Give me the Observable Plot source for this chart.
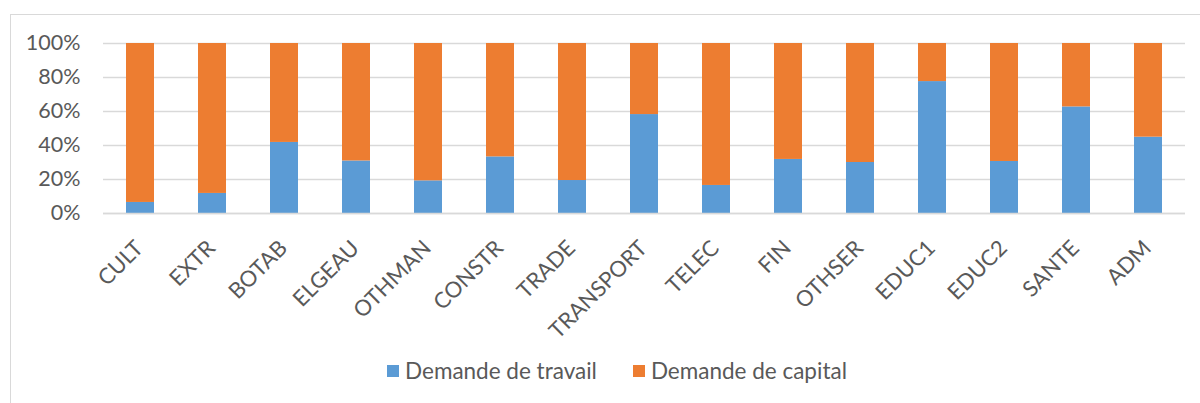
<!DOCTYPE html>
<html>
<head>
<meta charset="utf-8">
<script src="https://cdn.jsdelivr.net/npm/d3@7"></script>
<script src="https://cdn.jsdelivr.net/npm/@observablehq/plot@0.6"></script>
<style>
  html, body { margin: 0; padding: 0; background: #fff; }
  body { width: 1200px; height: 403px; position: relative; overflow: hidden; font-family: Lato, "Open Sans", sans-serif; }
  #frame { position: absolute; left: 10px; top: 14px; width: 1220px; height: 420px; border: 1px solid #d9d9d9; box-sizing: border-box; }
  #chart { position: absolute; left: 0; top: 0; }
  #legend { position: absolute; top: 357px; left: 17px; width: 1200px; display: flex; justify-content: center; gap: 36px; font-size: 22.5px; color: #595959; }
  .item { display: flex; align-items: center; gap: 6px; }
  .sw { width: 12px; height: 12px; display: inline-block; }
</style>
</head>
<body>
<div id="frame"></div>
<div id="chart"></div>
<div id="legend"></div>
<script>
const categories = ["CULT","EXTR","BOTAB","ELGEAU","OTHMAN","CONSTR","TRADE","TRANSPORT","TELEC","FIN","OTHSER","EDUC1","EDUC2","SANTE","ADM"];
const seriesNames = ["Demande de travail","Demande de capital"];
const travail = [6.5, 11.8, 41.8, 30.9, 19.2, 33.3, 19.4, 58.2, 16.5, 31.8, 30.0, 77.6, 30.6, 62.7, 44.9];
const capital = [93.5, 88.2, 58.2, 69.1, 80.8, 66.7, 80.6, 41.8, 83.5, 68.2, 70.0, 22.4, 69.4, 37.3, 55.1];
const colors = ["#5b9bd5", "#ed7d31"];
const yTicks = [0, 20, 40, 60, 80, 100];

const rows = [
  ...categories.map((c, i) => ({cat: c, series: seriesNames[0], value: travail[i]})),
  ...categories.map((c, i) => ({cat: c, series: seriesNames[1], value: capital[i]}))
];

const plot = Plot.plot({
  width: 1200,
  height: 350,
  marginLeft: 103,
  marginRight: 15,
  marginTop: 43,
  marginBottom: 137,
  style: { fontFamily: "Lato, 'Open Sans', sans-serif", fontSize: "21px", color: "#595959", background: "transparent", overflow: "visible" },
  x: { domain: categories, paddingInner: 0.61, paddingOuter: 0.305 },
  y: { domain: [0, 100] },
  color: { domain: seriesNames, range: colors },
  marks: [
    Plot.gridY(yTicks, { stroke: "#d9d9d9", strokeOpacity: 1, strokeWidth: 1.5 }),
    Plot.axisY(yTicks, { tickFormat: d => d + "%", label: null, tickSize: 0, tickPadding: 23, fontSize: 21.5 }),
    Plot.axisX({ label: null, tickSize: 0, tickPadding: 29, tickRotate: -45, fontSize: 22, dy: 2, dx: -1 }),
    Plot.barY(rows, { x: "cat", y: "value", fill: "series", order: seriesNames }),
    Plot.ruleY([0], { stroke: "#d9d9d9", strokeWidth: 1.5 })
  ]
});
document.getElementById("chart").appendChild(plot);

const legend = document.getElementById("legend");
seriesNames.forEach((s, i) => {
  const item = document.createElement("div");
  item.className = "item";
  const sw = document.createElement("span");
  sw.className = "sw";
  sw.style.background = colors[i];
  const t = document.createElement("span");
  t.textContent = s;
  item.appendChild(sw);
  item.appendChild(t);
  legend.appendChild(item);
});
</script>
</body>
</html>
